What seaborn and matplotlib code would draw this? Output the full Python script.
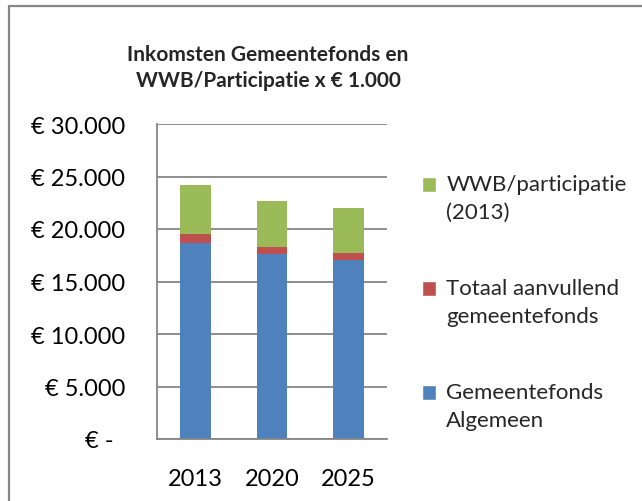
import matplotlib
matplotlib.use("Agg")
import matplotlib.pyplot as plt
import seaborn as sns
import pandas as pd
from matplotlib.ticker import FuncFormatter
from matplotlib.patches import Patch
from matplotlib.lines import Line2D

years = ["2013", "2020", "2025"]
gemeentefonds_algemeen = [18700, 17620, 17050]
totaal_aanvullend = [790, 630, 630]
wwb_participatie = [4660, 4450, 4320]

series_labels = ["WWB/participatie\n(2013)", "Totaal aanvullend\ngemeentefonds", "Gemeentefonds\nAlgemeen"]
colors = {"blue": "#4F81BD", "red": "#C0504D", "green": "#9BBB59"}
title = "Inkomsten Gemeentefonds en\nWWB/Participatie x € 1.000"
yticks = [0, 5000, 10000, 15000, 20000, 25000, 30000]

sns.set_theme(style="white")
plt.rcParams["font.family"] = ["Lato", "DejaVu Sans"]

df = pd.DataFrame({
    "year": years,
    "blue": gemeentefonds_algemeen,
    "red": totaal_aanvullend,
    "green": wwb_participatie,
})
df["cum_red"] = df["blue"] + df["red"]
df["cum_green"] = df["cum_red"] + df["green"]

fig = plt.figure(figsize=(6.42, 5.02), dpi=100)
ax = fig.add_axes([157/642, 1 - 440/502, 230/642, 315/502])

sns.barplot(data=df, x="year", y="cum_green", color=colors["green"], width=0.40, ax=ax, saturation=1, linewidth=0)
sns.barplot(data=df, x="year", y="cum_red", color=colors["red"], width=0.40, ax=ax, saturation=1, linewidth=0)
sns.barplot(data=df, x="year", y="blue", color=colors["blue"], width=0.40, ax=ax, saturation=1, linewidth=0)

grid_c = "#868686"
ax.set_ylim(0, 30000)
ax.set_xlim(-0.5, 2.5)
ax.set_yticks(yticks)
def fmt(v, pos):
    if v == 0:
        return "€ -  "
    return "€ " + f"{int(v):,}".replace(",", ".")
ax.yaxis.set_major_formatter(FuncFormatter(fmt))
ax.set_xticks([-0.5, 0.5, 1.5, 2.5])
ax.set_xticklabels([])
ax.set_xticks([0, 1, 2], minor=True)
ax.set_xticklabels(years, minor=True)
ax.tick_params(axis="x", which="major", length=8*0.72, width=1.3, color=grid_c, direction="out")
ax.tick_params(axis="x", which="minor", length=0, pad=21, labelsize=17, labelcolor="black")
ax.tick_params(axis="y", length=8*0.72, width=1.3, color=grid_c, direction="out", pad=17, labelsize=17, labelcolor="black")
ax.set_xlabel("")
ax.set_ylabel("")
ax.yaxis.grid(True, color=grid_c, linewidth=1.3)
ax.set_axisbelow(True)
for s in ["top", "right"]:
    ax.spines[s].set_visible(False)
for s in ["left", "bottom"]:
    ax.spines[s].set_color(grid_c)
    ax.spines[s].set_linewidth(1.3)

fig.text(268/642, 1 - 68/502, title, ha="center", va="center", fontsize=15, fontweight="bold",
         linespacing=1.4)

handles = [Patch(facecolor=colors["green"]), Patch(facecolor=colors["red"]), Patch(facecolor=colors["blue"])]
leg = fig.legend(handles, series_labels, loc="upper left", bbox_to_anchor=(422/642, 1 - 175/502),
                 frameon=False, fontsize=16, handlelength=0.64, handleheight=0.64, handletextpad=0.45,
                 labelspacing=2.52, borderaxespad=0, borderpad=0)
for t in leg.get_texts():
    t.set_linespacing(1.5)
for h in leg.legend_handles:
    h.set_y(h.get_y() + 10)

# chart border (left and top)
fig.add_artist(Line2D([8.5/642, 8.5/642], [0, 1 - 6.5/502], color=grid_c, linewidth=1.6, transform=fig.transFigure))
fig.add_artist(Line2D([8.5/642, 1], [1 - 6.5/502, 1 - 6.5/502], color=grid_c, linewidth=1.6, transform=fig.transFigure))

fig.savefig("out.png", dpi=100)
